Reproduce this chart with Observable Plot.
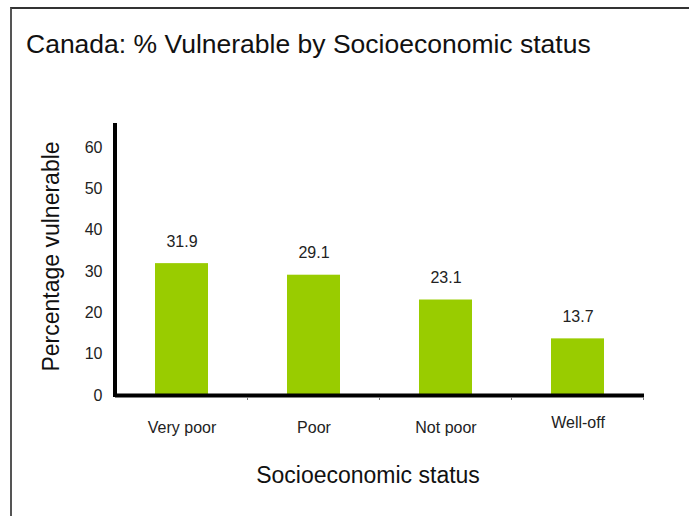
<!DOCTYPE html>
<html><head><meta charset="utf-8">
<script src="https://cdn.jsdelivr.net/npm/d3@7"></script>
<script src="https://cdn.jsdelivr.net/npm/@observablehq/plot@0.6"></script>
<style>
html,body{margin:0;padding:0;background:#fff;}
#wrap{position:relative;width:689px;height:516px;overflow:hidden;font-family:"Liberation Sans",Arial,sans-serif;}
#title{position:absolute;left:26px;top:31px;font-size:26.5px;line-height:26px;color:#111;white-space:nowrap;}
#chart{position:absolute;left:0;top:70px;}
#border{position:absolute;left:10px;top:7px;right:-10px;bottom:-10px;border-left:2px solid #555;border-top:2px solid #333;pointer-events:none;}
</style></head><body>
<div id="wrap"><div id="title">Canada: % Vulnerable by Socioeconomic status</div><div id="chart"></div><div id="border"></div></div>
<script>
const categories = ["Very poor", "Poor", "Not poor", "Well-off"];
const values = [31.9, 29.1, 23.1, 13.7];
const yTicks = [0, 10, 20, 30, 40, 50, 60];
const yAxisMax = 65.8;
const xLabel = "Socioeconomic status";
const yLabel = "Percentage vulnerable";

const data = categories.map((c, i) => ({status: c, value: values[i]}));

function axisDecor(index, scales, vals, dims) {
  const x = scales.x, y = scales.y;
  const g = d3.create("svg:g");
  const x0 = dims.marginLeft;
  g.append("line").attr("x1", x0).attr("x2", x0)
    .attr("y1", y(yAxisMax)).attr("y2", y(0) + 2)
    .attr("stroke", "#000").attr("stroke-width", 4);
  const dom = x.domain();
  const step = x.step ? x.step() : (x(dom[1]) - x(dom[0]));
  const bw = x.bandwidth ? x.bandwidth() : step * 0.4;
  const half = (step - bw) / 2;
  for (const c of dom) {
    const bx = x(c) + bw + half;
    g.append("line").attr("x1", bx).attr("x2", bx)
      .attr("y1", y(0) + 2).attr("y2", y(0) + 5)
      .attr("stroke", "#777").attr("stroke-width", 1);
  }
  return g.node();
}

const chart = Plot.plot({
  width: 689,
  height: 446,
  marginLeft: 115,
  marginRight: 45,
  marginTop: 53,
  marginBottom: 121,
  style: {fontFamily: "Liberation Sans, Arial, sans-serif", fontSize: "16px", background: "transparent", color: "#222"},
  x: {domain: categories, paddingInner: 0.6, paddingOuter: 0.3, axis: null},
  y: {domain: [0, yAxisMax], axis: null},
  marks: [
    Plot.barY(data, {x: "status", y: "value", fill: "#99cc00"}),
    Plot.ruleY([0], {stroke: "#000", strokeWidth: 4}),
    axisDecor,
    Plot.axisY({ticks: yTicks, tickSize: 0, tickPadding: 13, fontSize: 16, label: null}),
    Plot.text(data, {x: "status", y: "value", text: d => d.value.toFixed(1), dy: -17, lineAnchor: "bottom", fontSize: 16, fill: "#222"}),
    Plot.text(data.filter(d => d.status !== "Well-off"), {x: "status", frameAnchor: "bottom", text: "status", dy: 37, lineAnchor: "bottom", fontSize: 16, fill: "#222"}),
    Plot.text(data.filter(d => d.status === "Well-off"), {x: "status", frameAnchor: "bottom", text: "status", dy: 32, lineAnchor: "bottom", fontSize: 16, fill: "#222"}),
    Plot.text([xLabel], {frameAnchor: "bottom", text: d => d, dx: -12, dy: 87, lineAnchor: "bottom", fontSize: 23, fill: "#111"}),
    Plot.text([yLabel], {frameAnchor: "left", text: d => d, rotate: -90, dx: -64, dy: -3, textAnchor: "middle", fontSize: 23, fill: "#111"})
  ]
});
document.getElementById("chart").appendChild(chart);
</script>
</body></html>
